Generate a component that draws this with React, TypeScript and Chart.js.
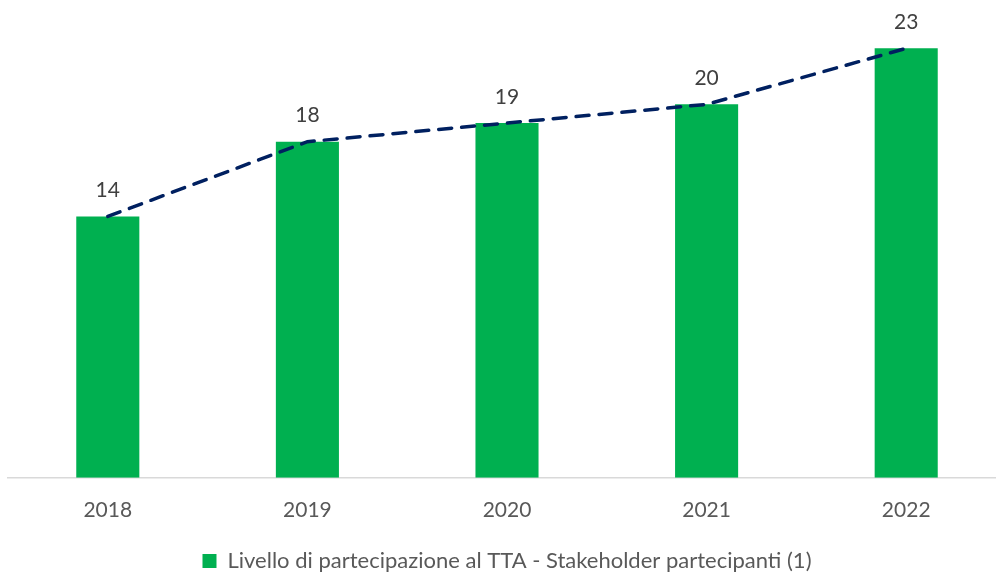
import React, { useEffect, useRef } from "react";
import { Chart, registerables } from "chart.js";

Chart.register(...registerables);

const categories = ["2018", "2019", "2020", "2021", "2022"];
const values = [14, 18, 19, 20, 23];
const seriesLabel = "Livello di partecipazione al TTA - Stakeholder partecipanti (1)";

const FONT = "Lato, 'Liberation Sans', sans-serif";

const valueLabels = {
  id: "valueLabels",
  afterDatasetsDraw(chart: any) {
    const ctx = chart.ctx;
    const meta = chart.getDatasetMeta(1);
    ctx.save();
    ctx.font = `21px ${FONT}`;
    ctx.fillStyle = "#404040";
    ctx.textAlign = "center";
    ctx.textBaseline = "middle";
    meta.data.forEach((bar: any, i: number) => {
      ctx.fillText(String(values[i]), bar.x, bar.y - 26);
    });
    ctx.restore();
  },
};

export default function App() {
  const ref = useRef<HTMLCanvasElement>(null);
  useEffect(() => {
    document.body.style.margin = "0";
    document.documentElement.style.overflow = "hidden";
    document.body.style.overflow = "hidden";
    const chart = new Chart(ref.current!, {
      type: "bar",
      data: {
        labels: categories,
        datasets: [
          {
            type: "line",
            label: "trend",
            data: values,
            borderColor: "#002060",
            borderWidth: 3.5,
            borderDash: [13, 10],
            borderCapStyle: "round",
            pointRadius: 0,
            fill: false,
            order: 0,
          } as any,
          {
            label: seriesLabel,
            data: values,
            backgroundColor: "#00B050",
            barPercentage: 0.316,
            categoryPercentage: 1,
            order: 1,
          },
        ],
      },
      options: {
        animation: false,
        responsive: true,
        maintainAspectRatio: false,
        layout: { padding: { left: 8, right: 18, top: 11, bottom: -10 } },
        scales: {
          x: {
            grid: { display: false, drawTicks: false },
            border: { color: "#d9d9d9", width: 1.5 },
            ticks: {
              color: "#595959",
              font: { family: FONT, size: 21 },
              padding: 20,
            },
          },
          y: {
            display: false,
            min: 0,
            max: 25,
          },
        },
        plugins: {
          legend: {
            position: "bottom",
            labels: {
              filter: (item: any) => item.text !== "trend",
              color: "#595959",
              font: { family: FONT, size: 22 },
              boxWidth: 14,
              boxHeight: 14,
              padding: 7,
            },
          },
          tooltip: { enabled: false },
        },
      },
      plugins: [valueLabels],
    });
    return () => chart.destroy();
  }, []);
  return (
    <div style={{ width: 1024, height: 572, position: "relative" }}>
      <canvas ref={ref} />
    </div>
  );
}
